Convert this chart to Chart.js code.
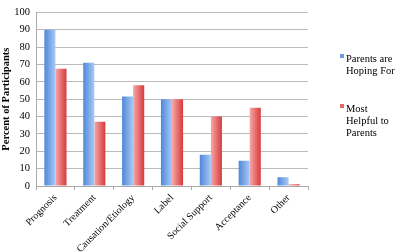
<!DOCTYPE html>
<html><head><meta charset="utf-8">
<script src="https://cdn.jsdelivr.net/npm/chart.js@4/dist/chart.umd.min.js"></script>
<style>html,body{margin:0;padding:0;background:#fff}#wrap{width:395px;height:252px;position:relative}</style>
</head><body><div id="wrap"><canvas id="c" width="395" height="252"></canvas></div>
<script>
const categories = ["Prognosis","Treatment","Causation/Etiology","Label","Social Support","Acceptance","Other"];
const hopingFor = [90, 71, 51.5, 50, 18, 14.5, 5];
const mostHelpful = [67.5, 37, 58, 50, 40, 45, 1];
const seriesNames = [["Parents are","Hoping For"],["Most","Helpful to","Parents"]];
const yTicks = [0,10,20,30,40,50,60,70,80,90,100];

const gradPlugin = {
  id: 'grad',
  beforeDatasetsDraw(chart) {
    const ctx = chart.ctx;
    chart.data.datasets.forEach((ds, i) => {
      const meta = chart.getDatasetMeta(i);
      meta.data.forEach(el => {
        const l = el.x - el.width / 2, r = el.x + el.width / 2;
        const g = ctx.createLinearGradient(l, 0, r, 0);
        if (i === 0) { g.addColorStop(0, '#5088d8'); g.addColorStop(1, '#a6c9f7'); }
        else { g.addColorStop(0, '#f7a8a8'); g.addColorStop(1, '#d63a3c'); }
        el.options = Object.assign({}, el.options, { backgroundColor: g });
      });
    });
  }
};
const legendPlugin = {
  id: 'sideLegend',
  afterDraw(chart) {
    const ctx = chart.ctx;
    ctx.save();
    ctx.font = '10.5px "Liberation Serif", serif';
    ctx.textBaseline = 'middle';
    const cols = ['#6b9be0', '#e06a6a'];
    const starts = [59, 109];
    seriesNames.forEach((lines, i) => {
      ctx.fillStyle = cols[i];
      ctx.fillRect(340, starts[i] - 5, 4, 4);
      ctx.fillStyle = '#000';
      lines.forEach((t, k) => ctx.fillText(t, 346, starts[i] + k * 12));
    });
    ctx.restore();
  }
};

new Chart(document.getElementById('c'), {
  type: 'bar',
  data: {
    labels: categories,
    datasets: [
      { label: seriesNames[0].join(' '), data: hopingFor, backgroundColor: () => '#6b9be0' },
      { label: seriesNames[1].join(' '), data: mostHelpful, backgroundColor: () => '#e06a6a' }
    ]
  },
  options: {
    responsive: false,
    animation: false,
    events: [],
    layout: { padding: { top: 5, right: 87, left: 0, bottom: 0 } },
    datasets: { bar: { categoryPercentage: 0.57, barPercentage: 1 } },
    plugins: { legend: { display: false }, tooltip: { enabled: false } },
    scales: {
      x: {
        afterFit(s) { s.height = 66; },
        grid: { offset: true, drawOnChartArea: false, color: '#aaa', tickLength: 4 },
        border: { color: '#aaa' },
        ticks: { color: '#000', font: { family: '"Liberation Serif", serif', size: 10 }, maxRotation: 45, minRotation: 45, padding: 2 }
      },
      y: {
        min: 0, max: 100,
        afterBuildTicks(s) { s.ticks = yTicks.map(v => ({ value: v })); },
        afterFit(s) { s.width = 36; },
        grid: { color: '#bbb', drawTicks: false },
        border: { color: '#aaa' },
        ticks: { color: '#000', font: { family: '"Liberation Serif", serif', size: 10.5 }, padding: 6 },
        title: { display: true, text: 'Percent of Participants', color: '#000', font: { family: '"Liberation Serif", serif', size: 10.5, weight: 'bold' }, padding: 0 }
      }
    }
  },
  plugins: [gradPlugin, legendPlugin]
});
</script></body></html>
